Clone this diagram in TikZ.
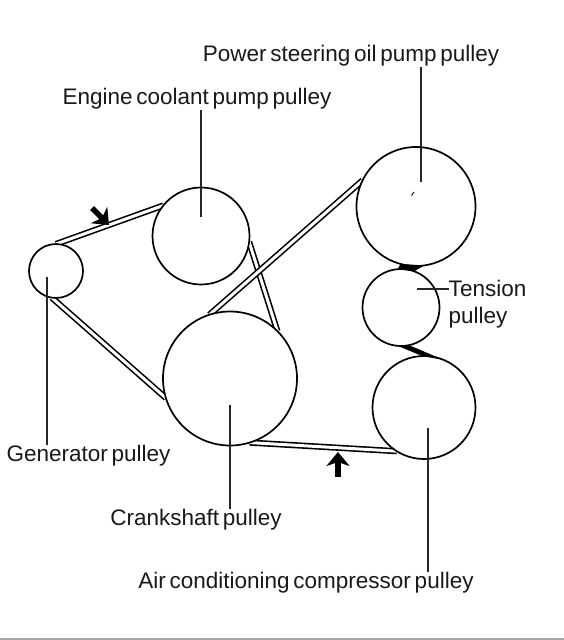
\documentclass[tikz,border=0pt]{standalone}
\usepackage{fontspec}
\setmainfont[WordSpace=0.6]{Liberation Sans}
\usetikzlibrary{arrows.meta,backgrounds}

\begin{document}
\begin{tikzpicture}[
  x=1pt, y=-1pt,
  font=\fontsize{22.5}{27}\selectfont,
  pl/.style={draw, circle, fill=white, line width=1.7pt, inner sep=0pt, outer sep=0pt},
  belt/.style={draw, line width=1.6pt, double=white, double distance=3pt},
  ld/.style={draw, black!85, line width=1.5pt},
  lb/.style={inner sep=0pt, align=left, text=black!90},
  rot/.style={line width=5.5pt, -{Stealth[length=14pt,width=23pt,inset=4pt]}},
]
\useasboundingbox (0,0) rectangle (564,640);
\fill[black!35] (0,637.5) rectangle (564,640);
% pulleys
\node[pl, minimum size=54pt]  (gen)  at (56,271)  {};
\node[pl, minimum size=97pt]  (cool) at (201,236) {};
\node[pl, minimum size=134pt] (crk)  at (230,378.5) {};
\node[pl, minimum size=119pt] (ps)   at (416,206.5) {};
\node[pl, minimum size=77pt]  (ten)  at (401,307.5) {};
\node[pl, minimum size=103pt] (ac)   at (424,407.5) {};
% belt
\begin{scope}[on background layer]
\draw[belt] (gen.90) -- (cool.141);
\draw[belt] (gen.261) -- (crk.197);
\draw[belt] (cool.-7) -- (crk.45.6);
\draw[belt] (crk.108) -- (ps.154);
\draw[belt] (crk.-73) -- (ac.-122.5);
\end{scope}
\fill (ten.95) -- (ps.-105) -- (ps.-82) -- (ten.70) -- cycle;
\fill (ten.-95) -- (ten.-78) -- (ac.68) -- (ac.92) -- cycle;
% labels
\node[lb] (lps)   at (351,56)  {Power steering oil pump pulley};
\node[lb] (lcool) at (197,99)  {Engine coolant pump pulley};
\node[lb] (lgen)  at (88.5,456) {Generator pulley};
\node[lb] (lcrk)  at (196,520) {Crankshaft pulley};
\node[lb] (lac)   at (306,583) {Air conditioning compressor pulley};
\node[lb] (lten)  at (487.5,304) {Tension\\pulley};
% leaders
\coordinate (psend)   at (421,182);
\coordinate (coolend) at (201,217);
\coordinate (genend)  at (47,277);
\coordinate (crkend)  at (230,405);
\coordinate (acend)   at (428,428);
\coordinate (tenend)  at (417,289);
\draw[ld] (psend) -- (psend |- lps.south);
\draw[ld] (coolend) -- (coolend |- lcool.south);
\draw[ld] (genend) -- (genend |- lgen.north);
\draw[ld] (crkend) -- (crkend |- lcrk.north);
\draw[ld] (acend) -- (acend |- lac.north);
\draw[ld] (tenend) -- (tenend -| lten.west);
\draw[line width=0.9pt] (411.5,195.5) -- (414,192);
% rotation arrows
\coordinate (rota) at (92,208);
\coordinate (rotb) at (109,225);
\coordinate (rotc) at (338,477);
\coordinate (rotd) at (338,452);
\draw[rot] (rota) -- (rotb);
\draw[rot] (rotc) -- (rotd);
\end{tikzpicture}
\end{document}
